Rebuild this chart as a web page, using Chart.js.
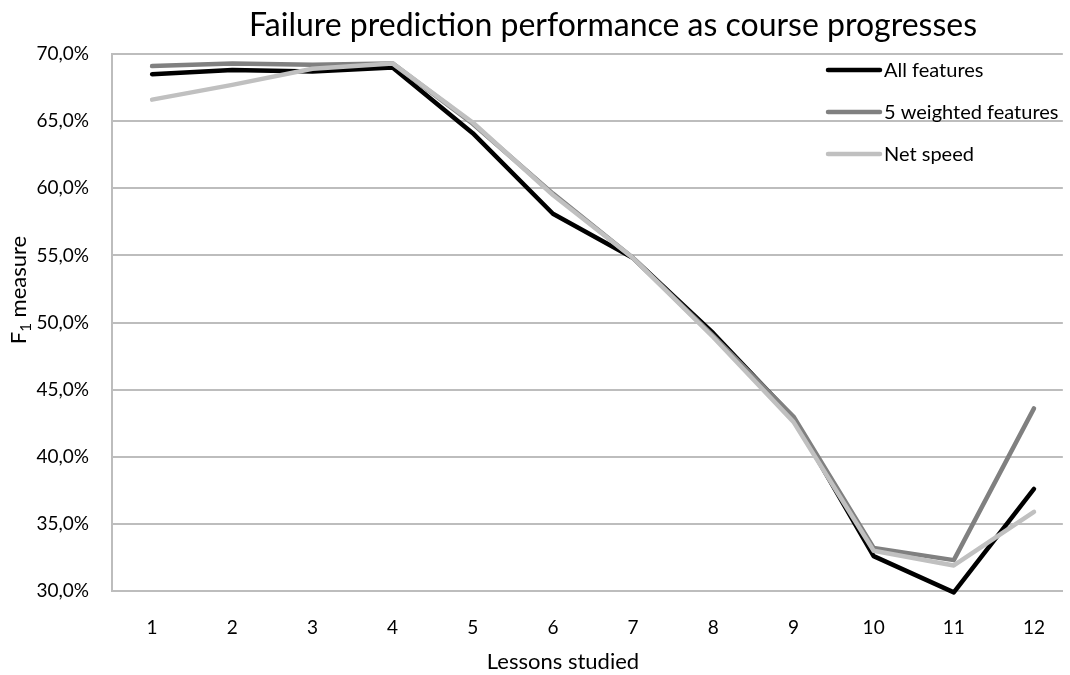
<!DOCTYPE html>
<html>
<head>
<meta charset="utf-8">
<script src="https://cdn.jsdelivr.net/npm/chart.js@4"></script>
<style>
html,body{margin:0;padding:0;background:#fff;overflow:hidden;}
#wrap{width:1070px;height:675px;}
</style>
</head>
<body>
<div id="wrap"><canvas id="c" width="1070" height="675"></canvas></div>
<script>
const categories = ['1','2','3','4','5','6','7','8','9','10','11','12'];
const allFeatures = [68.5, 68.8, 68.7, 69.0, 64.1, 58.1, 54.8, 49.2, 42.9, 32.6, 29.9, 37.6];
const weightedFeatures = [69.1, 69.3, 69.2, 69.3, 64.8, 59.6, 54.8, 49.0, 43.0, 33.2, 32.3, 43.6];
const netSpeed = [66.6, 67.7, 68.9, 69.3, 64.9, 59.5, 54.8, 48.9, 42.6, 33.0, 31.9, 35.9];
const seriesNames = ['All features', '5 weighted features', 'Net speed'];
const seriesColors = ['#000000', '#808080', '#c0c0c0'];
const titleText = 'Failure prediction performance as course progresses';
const xTitle = 'Lessons studied';
const yMin = 30, yMax = 70, yStep = 5;

const FONT = 'Lato, "Open Sans", sans-serif';

const toPoints = arr => arr.map((v, i) => ({ x: i + 1, y: v }));

const overlay = {
  id: 'overlay',
  afterDraw(chart) {
    const ctx = chart.ctx;
    ctx.save();
    ctx.fillStyle = '#000';
    // title
    ctx.font = '32px ' + FONT;
    ctx.textAlign = 'center';
    ctx.textBaseline = 'alphabetic';
    ctx.fillText(titleText, 613, 36);
    // x title
    ctx.font = '22px ' + FONT;
    ctx.fillText(xTitle, 563, 669);
    // y title (rotated) with subscript
    ctx.save();
    ctx.translate(26, 290);
    ctx.rotate(-Math.PI / 2);
    ctx.textAlign = 'left';
    ctx.font = '22px ' + FONT;
    const wF = ctx.measureText('F').width;
    ctx.font = '15px ' + FONT;
    const w1 = ctx.measureText('1').width;
    ctx.font = '22px ' + FONT;
    const wRest = ctx.measureText(' measure').width;
    const total = wF + w1 + wRest;
    const x0 = -total / 2;
    ctx.fillText('F', x0, 0);
    ctx.font = '15px ' + FONT;
    ctx.fillText('1', x0 + wF, 5);
    ctx.font = '22px ' + FONT;
    ctx.fillText(' measure', x0 + wF + w1, 0);
    ctx.restore();
    // legend
    const rows = [70, 112, 154];
    ctx.font = '20px ' + FONT;
    ctx.textAlign = 'left';
    ctx.textBaseline = 'middle';
    for (let i = 0; i < seriesNames.length; i++) {
      ctx.strokeStyle = seriesColors[i];
      ctx.lineWidth = 4.5;
      ctx.lineCap = 'round';
      ctx.beginPath();
      ctx.moveTo(828, rows[i]);
      ctx.lineTo(880, rows[i]);
      ctx.stroke();
      ctx.fillStyle = '#000';
      ctx.fillText(seriesNames[i], 884, rows[i] + 1);
    }
    ctx.restore();
  }
};

const mk = (label, data, color, order) => ({
  label, data: toPoints(data), borderColor: color, backgroundColor: color,
  borderWidth: 4.5, pointRadius: 0, tension: 0, fill: false,
  borderCapStyle: 'round', borderJoinStyle: 'round', clip: false, order
});

new Chart(document.getElementById('c'), {
  type: 'line',
  data: {
    datasets: [
      mk(seriesNames[0], allFeatures, seriesColors[0], 3),
      mk(seriesNames[1], weightedFeatures, seriesColors[1], 2),
      mk(seriesNames[2], netSpeed, seriesColors[2], 1)
    ]
  },
  options: {
    responsive: false,
    animation: false,
    layout: { padding: { left: 0, top: 54, right: 0, bottom: 0 } },
    plugins: { legend: { display: false }, title: { display: false }, tooltip: { enabled: false } },
    scales: {
      x: {
        type: 'linear',
        min: 0.5, max: 12.36,
        grid: { display: false, drawTicks: false },
        border: { display: true, color: '#bdbdbd', width: 2 },
        ticks: {
          color: '#000', font: { family: FONT, size: 19 }, padding: 25, maxRotation: 0,
          autoSkip: false, includeBounds: false,
          callback: v => categories[v - 1]
        },
        afterBuildTicks(s) { s.ticks = categories.map((c, i) => ({ value: i + 1 })); },
        afterFit(s) { s.height = 84; }
      },
      y: {
        min: yMin, max: yMax,
        grid: { color: '#bdbdbd', lineWidth: 2, drawTicks: false },
        border: { display: true, color: '#bdbdbd', width: 2 },
        ticks: {
          stepSize: yStep, color: '#000', font: { family: FONT, size: 19 }, padding: 23,
          callback: v => v.toFixed(1).replace('.', ',') + '%'
        },
        afterFit(s) { s.width = 112; }
      }
    }
  },
  plugins: [overlay]
});
</script>
</body>
</html>
